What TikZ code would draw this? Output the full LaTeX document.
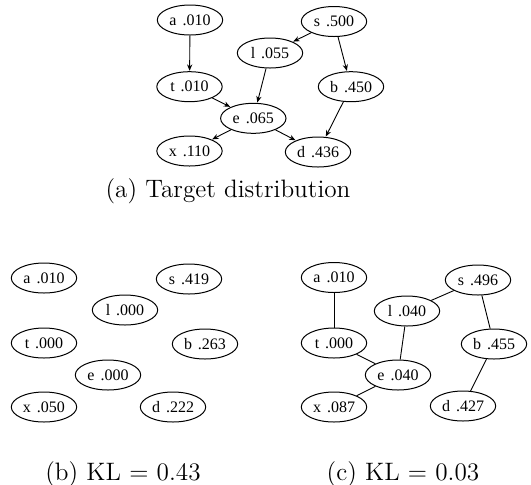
\documentclass[tikz,border=0pt]{standalone}
\usepackage{fontspec}
\newfontfamily\nodefont{Liberation Serif}
\usetikzlibrary{shapes.geometric,arrows.meta}
\newcommand{\nv}[2]{#1\hspace{3pt}#2}
\tikzset{
  var/.style={ellipse,draw,line width=0.5pt,minimum width=32.7pt,minimum height=15pt,inner sep=0pt,font=\nodefont\fontsize{8}{9.5}\selectfont},
  dirarr/.style={line width=0.45pt,-{Stealth[length=3.2pt,width=2.6pt]},shorten >=0.2pt},
  undir/.style={line width=0.45pt},
  captext/.style={font=\fontsize{12.6}{15}\selectfont}
}
\begin{document}
\begin{tikzpicture}[x=0.5pt,y=-0.5pt]
\useasboundingbox (0,0) rectangle (531,484);
% (a) target distribution
\node[var] (aa) at (190,20) {\nv{a}{.010}};
\node[var] (as) at (334,21.5) {\nv{s}{.500}};
\node[var] (al) at (270,53) {\nv{l}{.055}};
\node[var] (at) at (189.5,86.7) {\nv{t}{.010}};
\node[var] (ab) at (351,86.7) {\nv{b}{.450}};
\node[var] (ae) at (253.3,118.3) {\nv{e}{.065}};
\node[var] (ax) at (189.5,151) {\nv{x}{.110}};
\node[var] (ad) at (318,152) {\nv{d}{.436}};
\draw[dirarr] (aa) -- (at);
\draw[dirarr] (as) -- (al);
\draw[dirarr] (as) -- (ab);
\draw[dirarr] (al) -- (ae);
\draw[dirarr] (at) -- (ae);
\draw[dirarr] (ab) -- (ad);
\draw[dirarr] (ae) -- (ax);
\draw[dirarr] (ae) -- (ad);
\node[captext] (capa) at (228,191) {(a) Target distribution};
% (b)
\node[var] (ba) at (44,278) {\nv{a}{.010}};
\node[var] (bs) at (189,279) {\nv{s}{.419}};
\node[var] (bl) at (125,310) {\nv{l}{.000}};
\node[var] (bt) at (44,343) {\nv{t}{.000}};
\node[var] (bb) at (205,344) {\nv{b}{.263}};
\node[var] (be) at (108,375) {\nv{e}{.000}};
\node[var] (bx) at (44,407) {\nv{x}{.050}};
\node[var] (bd) at (173,407) {\nv{d}{.222}};
\node[captext] (capb) at (123,474) {(b) KL = 0.43};
% (c)
\node[var] (ca) at (334,277.5) {\nv{a}{.010}};
\node[var] (cs) at (478,280) {\nv{s}{.496}};
\node[var] (cl) at (407,311) {\nv{l}{.040}};
\node[var] (ct) at (334,343) {\nv{t}{.000}};
\node[var] (cb) at (494,344) {\nv{b}{.455}};
\node[var] (ce) at (398,375) {\nv{e}{.040}};
\node[var] (cx) at (334,407) {\nv{x}{.087}};
\node[var] (cd) at (463,406) {\nv{d}{.427}};
\draw[undir] (ca) -- (ct);
\draw[undir] (cs) -- (cl);
\draw[undir] (cs) -- (cb);
\draw[undir] (cl) -- (ce);
\draw[undir] (ct) -- (ce);
\draw[undir] (cb) -- (cd);
\draw[undir] (ce) -- (cx);
\node[captext] (capc) at (403,474) {(c) KL = 0.03};
\end{tikzpicture}
\end{document}
